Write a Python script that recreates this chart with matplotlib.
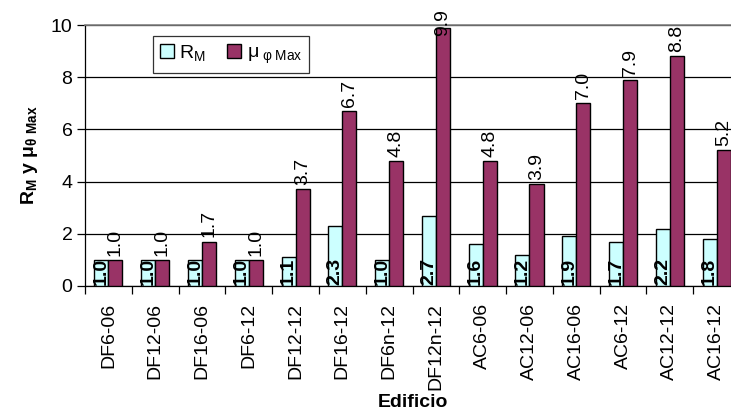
"""Bar chart of R_M and mu_phi Max per building (Edificio)."""
import matplotlib
matplotlib.use("Agg")
import matplotlib.pyplot as plt
import numpy as np

plt.rcParams["font.family"] = ["Liberation Sans", "DejaVu Sans"]
plt.rcParams["mathtext.fontset"] = "custom"
plt.rcParams["mathtext.rm"] = "Liberation Sans"
plt.rcParams["mathtext.it"] = "Liberation Sans"
plt.rcParams["mathtext.bf"] = "Liberation Sans:bold"

EDIFICIOS = ["DF6-06", "DF12-06", "DF16-06", "DF6-12", "DF12-12", "DF16-12", "DF6n-12",
             "DF12n-12", "AC6-06", "AC12-06", "AC16-06", "AC6-12", "AC12-12", "AC16-12"]
R_M = [1.0, 1.0, 1.0, 1.0, 1.1, 2.3, 1.0, 2.7, 1.6, 1.2, 1.9, 1.7, 2.2, 1.8]
MU_MAX = [1.0, 1.0, 1.7, 1.0, 3.7, 6.7, 4.8, 9.9, 4.8, 3.9, 7.0, 7.9, 8.8, 5.2]
Y_TICKS = [0, 2, 4, 6, 8, 10]

CYAN = "#ccffff"
PLUM = "#993366"
FS = 14


def main() -> None:
    fig = plt.figure(figsize=(7.31, 4.2), dpi=100)
    # plot area runs a little past the right edge, as in the original
    ax = fig.add_axes([85 / 731, 1 - 286 / 420, 655 / 731, 261 / 420])

    x = np.arange(len(EDIFICIOS))
    w = 0.3
    ax.bar(x - w / 2, R_M, width=w, color=CYAN, edgecolor="black", linewidth=1.0,
           label=r"$R_M$", zorder=3)
    ax.bar(x + w / 2, MU_MAX, width=w, color=PLUM, edgecolor="black", linewidth=1.0,
           label=r"$\mu_{\ \varphi\ Max}$", zorder=3)

    for xi, v in zip(x, R_M):
        ax.text(xi - w / 2, 0.05, f"{v:.1f}", rotation=90, ha="center", va="bottom",
                fontsize=FS, fontweight="bold", zorder=4)
    for xi, v in zip(x, MU_MAX):
        ax.annotate(f"{v:.1f}", (xi + w / 2, min(v, 9.4)), xytext=(0, 3),
                    textcoords="offset points", rotation=90, ha="center", va="bottom",
                    fontsize=FS, zorder=4, annotation_clip=False)

    ax.set_xlim(-0.5, len(EDIFICIOS) - 0.5)
    ax.set_ylim(0, 10)
    ax.set_yticks(Y_TICKS)
    ax.set_yticklabels([str(t) for t in Y_TICKS], fontsize=FS)
    ax.set_xticks(np.arange(-0.5, len(EDIFICIOS)))
    ax.set_xticklabels([])
    ax.set_xticks(x, minor=True)
    ax.set_xticklabels(EDIFICIOS, minor=True, rotation=90, fontsize=FS)
    ax.tick_params(axis="x", which="major", length=6, width=0.9, direction="out")
    ax.tick_params(axis="x", which="minor", length=0, pad=12)
    ax.tick_params(axis="y", length=6, width=0.9, direction="out", pad=3)

    ax.grid(axis="y", color="black", linewidth=0.9, zorder=0)
    ax.set_axisbelow(True)
    for s in ["left", "bottom"]:
        ax.spines[s].set_color("black")
        ax.spines[s].set_linewidth(0.9)
    ax.spines["top"].set_color("#808080")
    ax.spines["top"].set_linewidth(1.2)
    ax.spines["right"].set_visible(False)

    ax.set_xlabel("Edificio", fontsize=FS, fontweight="bold", labelpad=3)
    ax.set_ylabel(r"$\mathbf{R_M\ y\ \mu_{\theta\ Max}}$", fontsize=FS, labelpad=8)

    leg = ax.legend(loc="upper left", bbox_to_anchor=(0.104, 0.958), borderaxespad=0,
                    ncol=2, fontsize=FS, frameon=True, fancybox=False,
                    edgecolor="black", handlelength=0.7, handleheight=0.7,
                    handletextpad=0.3, columnspacing=1.1, borderpad=0.35)
    leg.get_frame().set_linewidth(0.9)

    fig.savefig("out.png", dpi=100, facecolor="white")


if __name__ == "__main__":
    main()
